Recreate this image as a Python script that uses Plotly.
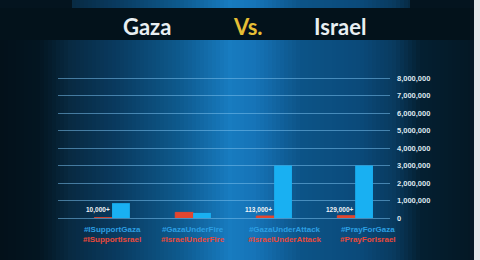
import plotly.graph_objects as go

# ---- data ----
categories = ["#ISupportGaza", "#GazaUnderFire", "#GazaUnderAttack", "#PrayForGaza"]
israel_tags = ["#ISupportIsrael", "#IsraelUnderFire", "#IsraelUnderAttack", "#PrayForIsrael"]
israel_values = [10000, 320000, 113000, 129000]
gaza_values = [850000, 290000, 3000000, 3000000]
israel_labels = ["10,000+", "", "113,000+", "129,000+"]
y_ticks = [0, 1000000, 2000000, 3000000, 4000000, 5000000, 6000000, 7000000, 8000000]

# ---- style ----
W, H = 480, 260
L, R, T, B = 58, 390, 76, 218
PX_PER_UNIT = 17.5 / 1e6
Y_TOP = (B - T) / PX_PER_UNIT
BLUE = "#19b0f2"
RED = "#e2462f"
LBL_BLUE = "#2c9fe2"
LBL_RED = "#e8493a"
label_xshift = [0, 0, 10, 13]


def px2x(px):
    return (px - L) / (R - L)


def px2y(py):
    return (B - py) / (B - T)


stops = [(0, (3, 17, 26)), (40, (4, 22, 34)), (70, (8, 42, 66)), (120, (10, 60, 98)),
         (180, (14, 90, 142)), (230, (24, 124, 192)), (255, (22, 116, 184)),
         (300, (13, 84, 136)), (360, (11, 74, 122)), (395, (9, 58, 94)),
         (420, (5, 32, 50)), (474, (4, 24, 36))]


def bg_color(px):
    for (x0, c0), (x1, c1) in zip(stops[:-1], stops[1:]):
        if x0 <= px <= x1:
            t = (px - x0) / (x1 - x0)
            c = [int(a + (b - a) * t) for a, b in zip(c0, c1)]
            return "rgb(%d,%d,%d)" % tuple(c)
    return "rgb(4,24,36)"


shapes = []
step = 4
for px in range(0, 474, step):
    col = bg_color(px + step / 2)
    shapes.append(dict(type="rect", xref="paper", yref="paper",
                       x0=px2x(px), x1=px2x(px + step), y0=px2y(260), y1=px2y(40),
                       fillcolor=col, line=dict(width=0), layer="below"))
    if 70 <= px <= 410:
        shapes.append(dict(type="rect", xref="paper", yref="paper",
                           x0=px2x(px), x1=px2x(px + step), y0=px2y(8), y1=px2y(0),
                           fillcolor=col, line=dict(width=0), layer="below"))
shapes.append(dict(type="rect", xref="paper", yref="paper",
                   x0=px2x(0), x1=px2x(474), y0=px2y(40), y1=px2y(8),
                   fillcolor="#03121b", line=dict(width=0), layer="below"))
shapes.append(dict(type="rect", xref="paper", yref="paper",
                   x0=px2x(0), x1=px2x(70), y0=px2y(8), y1=px2y(0),
                   fillcolor="#04141f", line=dict(width=0), layer="below"))
shapes.append(dict(type="rect", xref="paper", yref="paper",
                   x0=px2x(410), x1=px2x(474), y0=px2y(8), y1=px2y(0),
                   fillcolor="#04141f", line=dict(width=0), layer="below"))
shapes.append(dict(type="rect", xref="paper", yref="paper",
                   x0=px2x(474), x1=px2x(481), y0=px2y(261), y1=px2y(-1),
                   fillcolor="#e6e8ea", line=dict(width=0), layer="below"))

fig = go.Figure()
fig.add_trace(go.Bar(x=list(range(len(categories))), y=israel_values, name="Israel",
                     marker=dict(color=RED, line=dict(color=RED, width=1))))
fig.add_trace(go.Bar(x=list(range(len(categories))), y=gaza_values, name="Gaza",
                     marker=dict(color=BLUE, line=dict(width=0))))

annotations = []
for i, (g, s) in enumerate(zip(categories, israel_tags)):
    annotations.append(dict(
        x=i, y=0, xref="x", yref="y", xanchor="center", yanchor="top",
        yshift=-5, xshift=label_xshift[i], showarrow=False,
        text="<b><span style='color:%s'>%s</span><br><span style='color:%s'>%s</span></b>" % (LBL_BLUE, g, LBL_RED, s),
        font=dict(family="Liberation Sans", size=8, color=LBL_BLUE),
        align="center"))
for i, lab in enumerate(israel_labels):
    if lab:
        annotations.append(dict(
            x=i, y=0, xref="x", yref="y", xanchor="right", yanchor="bottom",
            yshift=2, showarrow=False, text="<b>%s</b>" % lab,
            font=dict(family="Liberation Sans", size=6.5, color="#f2f4f6")))

title_font = dict(family="Lato", size=22, color="#e8eef2")
annotations += [
    dict(x=px2x(147), y=px2y(26), xref="paper", yref="paper", text="<b>Gaza</b>",
         showarrow=False, font=title_font, xanchor="center", yanchor="middle"),
    dict(x=px2x(248), y=px2y(26), xref="paper", yref="paper", text="<b>Vs.</b>",
         showarrow=False, font=dict(family="Lato", size=22, color="#e6bf35"),
         xanchor="center", yanchor="middle"),
    dict(x=px2x(340), y=px2y(26), xref="paper", yref="paper", text="<b>Israel</b>",
         showarrow=False, font=title_font, xanchor="center", yanchor="middle"),
]

fig.update_layout(
    width=W, height=H,
    margin=dict(l=L, r=W - R, t=T, b=H - B, pad=0),
    paper_bgcolor="#04141f", plot_bgcolor="rgba(0,0,0,0)",
    barmode="group", bargap=0.56, bargroupgap=0,
    showlegend=False,
    shapes=shapes, annotations=annotations,
    xaxis=dict(range=[-0.667, 3.43], showticklabels=False, showgrid=False,
               zeroline=False, showline=False, fixedrange=True),
    yaxis=dict(range=[0, Y_TOP], side="right", tickvals=y_ticks,
               ticktext=["<b>{:,}</b>".format(v) for v in y_ticks],
               showgrid=True, gridcolor="rgba(120,190,235,0.55)", gridwidth=1,
               zeroline=True, zerolinecolor="rgba(120,190,235,0.55)", zerolinewidth=1,
               showline=False, ticks="", ticklabelstandoff=6,
               tickfont=dict(family="Liberation Sans", size=7.5, color="#dde8f0"),
               fixedrange=True),
)

fig.write_html("out.html")
